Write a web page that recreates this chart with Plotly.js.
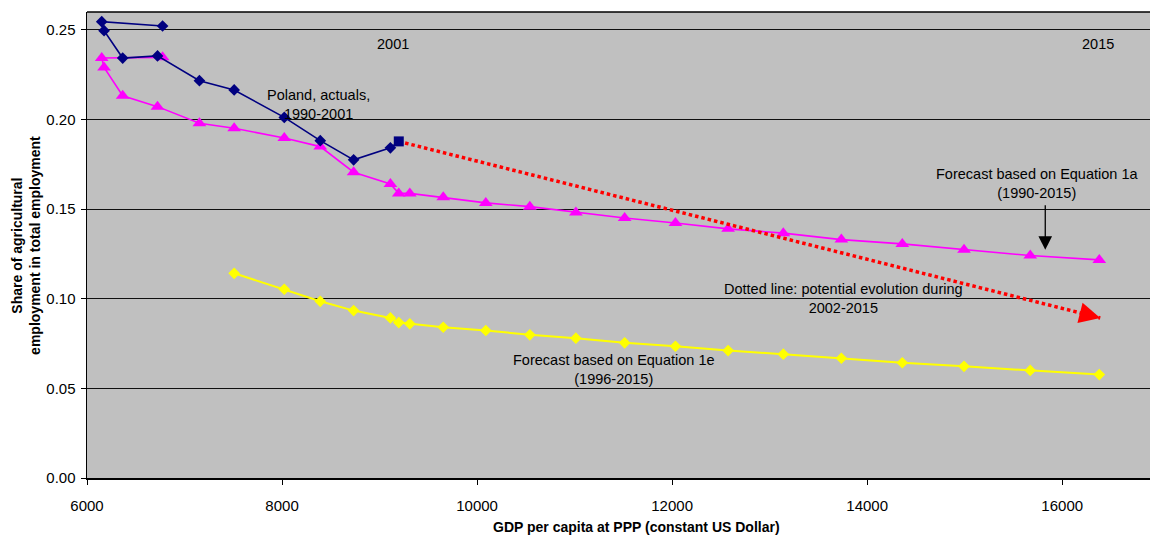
<!DOCTYPE html>
<html>
<head>
<meta charset="utf-8">
<script src="https://cdn.plot.ly/plotly-3.0.1.min.js"></script>
<style>
  html, body { margin: 0; padding: 0; background: #fff; overflow: hidden; }
  #myDiv { width: 1150px; height: 535px; }
</style>
</head>
<body>
<div id="myDiv"></div>
<script>
// Poland, actuals 1990-2001 (last point = 2001, square marker)
var gdpActual = [6775, 6151, 6175, 6366, 6723, 7153, 7509, 8023, 8392, 8734, 9111, 9197];
var shareActual = [0.2522, 0.2546, 0.2496, 0.2343, 0.2355, 0.2217, 0.2165, 0.2012, 0.1882, 0.1775, 0.1842, 0.1878];

// Forecast based on Equation 1a, 1990-2015
var gdpEq1a = [6775, 6151, 6175, 6366, 6723, 7153, 7509, 8023, 8392, 8734, 9111, 9197, 9310,
               9653, 10089, 10541, 11013, 11513, 12034, 12574, 13140, 13735, 14360, 14993, 15672, 16380];
var shareEq1a = [0.2347, 0.2343, 0.2291, 0.2133, 0.2072, 0.1979, 0.1951, 0.1897, 0.1849, 0.1706, 0.1641, 0.1588, 0.1588,
                 0.1566, 0.1535, 0.1514, 0.1482, 0.1451, 0.1423, 0.1390, 0.1366, 0.1330, 0.1306, 0.1273, 0.1241, 0.1217];

// Forecast based on Equation 1e, 1996-2015
var gdpEq1e = [7509, 8023, 8392, 8734, 9111, 9197, 9310, 9653, 10089, 10541,
               11013, 11513, 12034, 12574, 13140, 13735, 14360, 14993, 15672, 16380];
var shareEq1e = [0.1142, 0.1053, 0.0986, 0.0934, 0.0893, 0.0867, 0.0860, 0.0841, 0.0823, 0.0799,
                 0.0780, 0.0754, 0.0735, 0.0711, 0.0691, 0.0668, 0.0643, 0.0623, 0.0600, 0.0577];

// Dotted line: potential evolution 2002-2015
var gdpPath = [9197, 16390];
var sharePath = [0.1878, 0.0893];

var font = 'Arial, "Liberation Sans", sans-serif';

var symbols = gdpActual.map(function (d, i) { return i === gdpActual.length - 1 ? 'square' : 'diamond'; });
var sizes = gdpActual.map(function (d, i) { return i === gdpActual.length - 1 ? 10 : 9; });

var eq1a = {
    x: gdpEq1a, y: shareEq1a,
    mode: 'lines+markers', type: 'scatter',
    line: {color: '#FF00FF', width: 1.6},
    marker: {symbol: 'triangle-up', size: 12, color: '#FF00FF', opacity: 1, line: {width: 0}}
};
var eq1e = {
    x: gdpEq1e, y: shareEq1e,
    mode: 'lines+markers', type: 'scatter',
    line: {color: '#FFFF00', width: 2},
    marker: {symbol: 'diamond', size: 9, color: '#FFFF00', opacity: 1, line: {width: 0}}
};
var actual = {
    x: gdpActual, y: shareActual,
    mode: 'lines+markers', type: 'scatter',
    line: {color: '#000080', width: 1.6},
    marker: {symbol: symbols, size: sizes, color: '#000080', opacity: 1, line: {width: 0}}
};
var path = {
    x: gdpPath, y: sharePath,
    mode: 'lines', type: 'scatter',
    line: {color: '#FF0000', width: 3.5, dash: '3.5px,3px'}
};

var txt = {family: font, size: 14.5, color: '#000'};
var bold = {family: font, size: 14, weight: 'bold', color: '#000'};

var layout = {
    width: 1150, height: 535,
    margin: {l: 87, r: 0, t: 12, b: 57},
    paper_bgcolor: '#ffffff',
    plot_bgcolor: '#C0C0C0',
    showlegend: false,
    font: {family: font, color: '#000'},
    xaxis: {
        range: [6000, 16900], tick0: 6000, dtick: 2000, tickformat: 'd',
        showgrid: false, zeroline: false,
        showline: true, linecolor: '#000', linewidth: 2,
        ticks: 'outside', ticklen: 5, tickcolor: '#000', tickwidth: 1,
        ticklabelstandoff: 8,
        tickfont: {family: font, size: 15, color: '#000'}
    },
    yaxis: {
        range: [0, 0.26], tick0: 0, dtick: 0.05, tickformat: '.2f',
        showgrid: true, gridcolor: '#101010', gridwidth: 1,
        zeroline: false,
        showline: true, linecolor: '#000', linewidth: 1.5,
        ticks: 'outside', ticklen: 5, tickcolor: '#000', tickwidth: 1,
        ticklabelstandoff: 2,
        tickfont: {family: font, size: 15, color: '#000'}
    },
    shapes: [
        {type: 'line', xref: 'paper', yref: 'paper', x0: 0, x1: 1, y0: 1, y1: 1,
         line: {color: '#000', width: 1.5}}
    ],
    annotations: [
        {xref: 'paper', yref: 'paper', x: -0.0575, y: 0.5, xanchor: 'center', yanchor: 'middle',
         textangle: -90, showarrow: false,
         text: 'Share of agricultural<br>employment in total employment', font: bold},
        {xref: 'paper', yref: 'paper', x: 0.517, y: -0.105, xanchor: 'center', yanchor: 'middle', showarrow: false,
         text: 'GDP per capita at PPP (constant US Dollar)', font: bold},
        {x: 9142, y: 0.2421, text: '2001', showarrow: false, font: txt},
        {x: 16362, y: 0.2421, text: '2015', showarrow: false, font: txt},
        {x: 8372, y: 0.2083, text: 'Poland, actuals,<br>1990-2001', showarrow: false, font: txt},
        {x: 15743, y: 0.1645, text: 'Forecast based on Equation 1a<br>(1990-2015)', showarrow: false, font: txt},
        {x: 13762, y: 0.0999, text: 'Dotted line: potential evolution during<br>2002-2015', showarrow: false, font: txt},
        {x: 11404, y: 0.0605, text: 'Forecast based on Equation 1e<br>(1996-2015)', showarrow: false, font: txt},
        // black pointer to the Eq. 1a line
        {x: 15826, y: 0.1273, ax: 0, ay: -46, text: '', showarrow: true,
         arrowhead: 2, arrowsize: 2.1, arrowwidth: 1.3, arrowcolor: '#000'},
        // red arrow head at end of the dotted line
        {x: gdpPath[1], y: sharePath[1], ax: -16.5, ay: -4.2, text: '', showarrow: true,
         arrowhead: 2, arrowsize: 2.2, arrowwidth: 1.9, arrowcolor: '#FF0000'}
    ]
};

Plotly.newPlot('myDiv', [eq1e, eq1a, path, actual], layout, {displayModeBar: false, staticPlot: true});
</script>
</body>
</html>
